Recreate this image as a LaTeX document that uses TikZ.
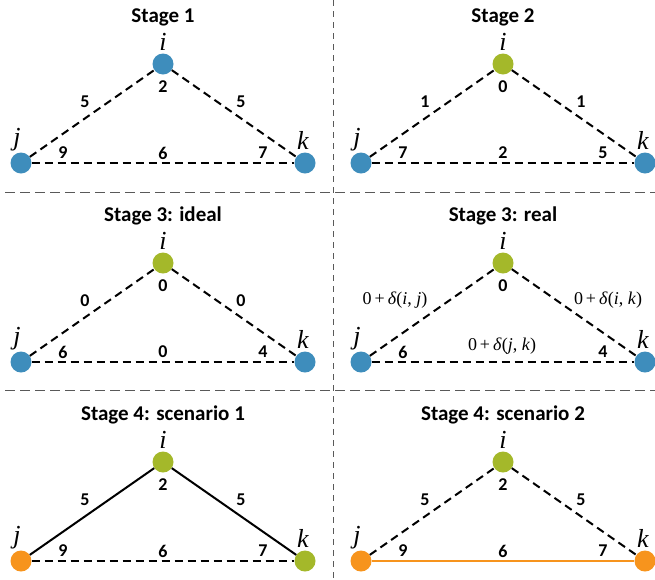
\documentclass[tikz,border=0pt]{standalone}
\usepackage{fontspec}
\setmainfont{Carlito}
\newfontfamily\tnr{Liberation Serif}
\usepackage{xcolor}
\usepackage{tikz}
\usetikzlibrary{positioning, calc}
\definecolor{azul}{RGB}{62,141,188}
\definecolor{verde}{RGB}{164,184,42}
\definecolor{naranja}{RGB}{247,148,29}
\tikzset{
  vertice/.style={circle, inner sep=0pt, minimum size=21pt},
  titulo/.style={font=\fontsize{21}{24}\selectfont\bfseries},
  letra/.style={font=\fontsize{26}{28}\selectfont\tnr\itshape},
  peso/.style={font=\fontsize{18}{20}\selectfont\bfseries},
  delta/.style={font=\fontsize{18}{20}\selectfont\tnr},
  arista/.style={line width=2pt, dash pattern=on 8pt off 5pt},
  firme/.style={line width=2pt},
  corte/.style={line width=1pt, gray!70!black}
}
% one panel: id, x and y of i, title, colours of i, j, k
\newcommand{\etapa}[7]{%
  \node[titulo] (t#1) at (#2,#3-47) {#4};
  \node[vertice, fill=#5] (i#1) at (#2,#3) {};
  \node[vertice, fill=#6] (j#1) at (#2-142,#3+99) {};
  \node[vertice, fill=#7] (k#1) at (#2+142,#3+99) {};
  \node[letra] (li#1) at (#2,#3-22) {i};
  \node[letra] (lj#1) at (#2-146,#3+76) {j};
  \node[letra] (lk#1) at (#2+140,#3+76) {k};%
}
% weights: id, x and y of i, left, i, right, j, bottom, k
\newcommand{\pesos}[9]{%
  \node[peso] (wl#1) at (#2-78,#3+38) {#4};
  \node[peso] (wi#1) at (#2,#3+23) {#5};
  \node[peso] (wr#1) at (#2+78,#3+38) {#6};
  \node[peso] (wj#1) at (#2-100,#3+89) {#7};
  \node[peso] (wb#1) at (#2,#3+89) {#8};
  \node[peso] (wk#1) at (#2+100,#3+89) {#9};%
}

\begin{document}
\begin{tikzpicture}[x=1pt, y=-1pt]
  \useasboundingbox (0,0) rectangle (655,579);
  % separators
  \draw[corte, dash pattern=on 10pt off 5pt] (5,192) -- (655,192);
  \draw[corte, dash pattern=on 10pt off 5pt] (5,390) -- (655,390);
  \draw[corte, dash pattern=on 6pt off 5pt] (333,0) -- (333,579);

  % Stage 1
  \etapa{1}{163}{64}{Stage 1}{azul}{azul}{azul}
  \draw[arista] (j1) -- (i1) -- (k1);
  \draw[arista] (j1) -- (k1);
  \pesos{1}{163}{64}{5}{2}{5}{9}{6}{7}

  % Stage 2
  \etapa{2}{503}{64}{Stage 2}{verde}{azul}{azul}
  \draw[arista] (j2) -- (i2) -- (k2);
  \draw[arista] (j2) -- (k2);
  \pesos{2}{503}{64}{1}{0}{1}{7}{2}{5}

  % Stage 3: ideal
  \etapa{3}{163}{263}{Stage 3: ideal}{verde}{azul}{azul}
  \draw[arista] (j3) -- (i3) -- (k3);
  \draw[arista] (j3) -- (k3);
  \pesos{3}{163}{263}{0}{0}{0}{6}{0}{4}

  % Stage 3: real
  \etapa{4}{503}{263}{Stage 3: real}{verde}{azul}{azul}
  \draw[arista] (j4) -- (i4) -- (k4);
  \draw[arista] (j4) -- (k4);
  \pesos{4}{503}{263}{}{0}{}{6}{}{4}
  \node[delta] (dij) at (395,300) {0\,+\,\textit{δ}(\textit{i}, \textit{j})};
  \node[delta] (dik) at (608,300) {0\,+\,\textit{δ}(\textit{i}, \textit{k})};
  \node[delta] (djk) at (502,346) {0\,+\,\textit{δ}(\textit{j}, \textit{k})};

  % Stage 4: scenario 1
  \etapa{5}{163}{462}{Stage 4: scenario 1}{verde}{naranja}{verde}
  \draw[firme] (j5) -- (i5) -- (k5);
  \draw[arista] (j5) -- (k5);
  \pesos{5}{163}{462}{5}{2}{5}{9}{6}{7}

  % Stage 4: scenario 2
  \etapa{6}{503}{462}{Stage 4: scenario 2}{verde}{naranja}{naranja}
  \draw[arista] (j6) -- (i6) -- (k6);
  \draw[firme, naranja, line width=2.5pt] (j6) -- (k6);
  \pesos{6}{503}{462}{5}{2}{5}{9}{6}{7}
\end{tikzpicture}
\end{document}
